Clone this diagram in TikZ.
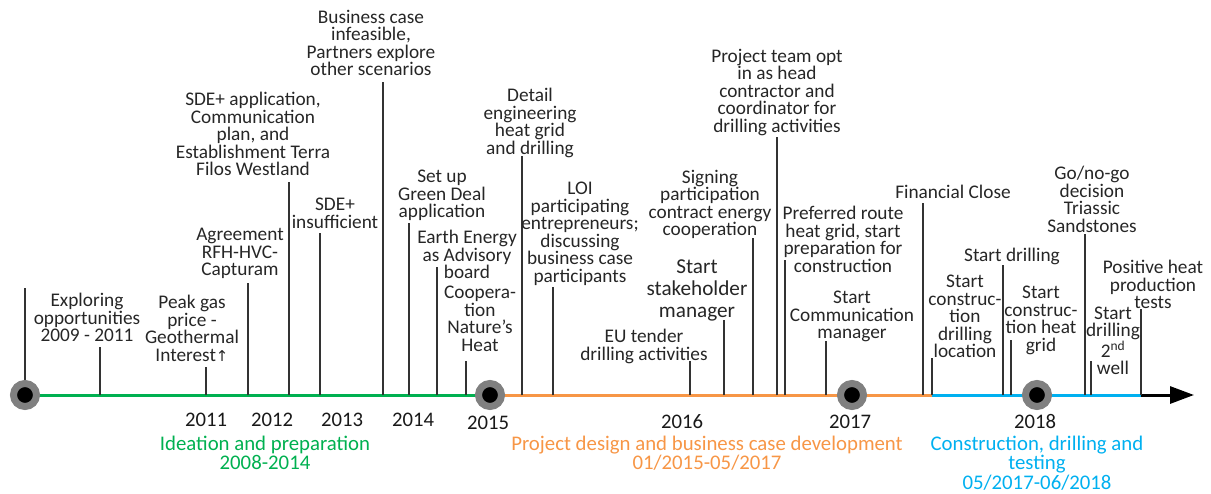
\documentclass[tikz,border=0pt]{standalone}
\usepackage{fontspec}
\setmainfont{Carlito}
\newfontfamily\symfnt{DejaVu Sans}
\usetikzlibrary{arrows.meta}
\definecolor{phgreen}{RGB}{0,176,80}
\definecolor{phorange}{RGB}{247,150,70}
\definecolor{phblue}{RGB}{0,176,240}
\definecolor{ringgray}{RGB}{128,128,128}
\newcommand\tlevent[7]{%
  \coordinate (t#1) at (#2,395);
  \coordinate (h#1) at (#2,#3);
  \draw[tick] (t#1) -- (h#1);
  \node[lbl,anchor=north,#7] (l#1) at (#4,#5-7) {#6};
}
\begin{document}
\begin{tikzpicture}[x=1pt,y=-1pt,
  tick/.style={line width=1.4pt,black!80},
  lbl/.style={font=\fontsize{19.3}{17.5}\selectfont,align=center,inner sep=0pt,text=black!85},
  biglbl/.style={font=\fontsize{21.2}{22}\selectfont},
  yearlbl/.style={font=\fontsize{20.7}{20}\selectfont,inner sep=0pt,anchor=base,text=black!90},
  phaselbl/.style={font=\fontsize{20.8}{19.6}\selectfont,inner sep=0pt,align=center,anchor=north},
  axis/.style={line width=3pt},
  ring/.style={circle,draw=ringgray,line width=7pt,fill=black,minimum size=23pt,inner sep=0pt}]
\useasboundingbox (0,0) rectangle (1211,493);
% axis coordinates
\coordinate (oend) at (932,395);
\coordinate (bend) at (1141,395);
\coordinate (tip) at (1194,395);
\draw[axis,phgreen] (25,395) coordinate (gstart) -- (490,395) coordinate (gend);
\draw[axis,phorange] (gend) -- (oend);
\draw[axis,phblue] (oend) -- (bend);
\draw[axis,black,-{Triangle[length=24pt 0 0,width=17pt 0 0]}] (bend) -- (tip);
% start tick
\coordinate (h0) at (25,288);
\draw[tick] (gstart) -- (h0);
% events
\tlevent{expl}{100}{347}{87}{300}{Exploring\\opportunities\\2009 - 2011}{}
\tlevent{peak}{206}{367}{192}{302}{Peak gas\\price -\\Geothermal\\Interest{\symfnt\fontsize{15}{17.5}\selectfont ↑}}{}
\tlevent{agree}{248}{283}{240}{235}{Agreement\\RFH-HVC-\\Capturam}{}
\tlevent{sdeapp}{289}{182}{253}{99}{SDE+ application,\\Communication\\plan, and\\Establishment Terra\\Filos Westland}{}
\tlevent{sdeins}{320}{233}{335}{205}{SDE+\\insufficient}{}
\tlevent{bcinf}{383}{82}{371}{17}{Business case\\infeasible,\\Partners explore\\other scenarios}{}
\tlevent{green}{409}{223}{442}{177}{Set up\\Green Deal\\application}{}
\tlevent{earth}{437}{267}{467}{237}{Earth Energy\\as Advisory\\board}{}
\tlevent{coop}{466}{361}{480}{293}{Coopera-\\tion\\Nature’s\\Heat}{}
\tlevent{detail}{522}{156}{530}{95}{Detail\\engineering\\heat grid\\and drilling}{}
\tlevent{loi}{553}{287}{580}{189}{LOI\\participating\\entrepreneurs;\\discussing\\business case\\participants}{}
\tlevent{eu}{690}{361}{644}{336}{EU tender\\drilling activities}{}
\tlevent{stake}{724}{320}{697}{267}{Start\\stakeholder\\manager}{biglbl}
\tlevent{sign}{753}{238}{710}{177}{Signing\\participation\\contract energy\\cooperation}{}
\tlevent{team}{777}{137}{777}{56}{Project team opt\\in as head\\contractor and\\coordinator for\\drilling activities}{}
\tlevent{pref}{785}{260}{843}{213}{Preferred route\\heat grid, start\\preparation for\\construction}{}
\tlevent{comm}{826}{341}{852}{298}{Start\\Communication\\manager}{}
\tlevent{fin}{923}{203}{953}{192}{Financial Close}{}
\tlevent{cdl}{932}{358}{965}{282}{Start\\construc-\\tion\\drilling\\location}{}
\tlevent{sdr}{1003}{265}{1012}{255}{Start drilling}{}
\tlevent{chg}{1011}{340}{1041}{293}{Start\\construc-\\tion heat\\grid}{}
\tlevent{go}{1085}{234}{1092}{173}{Go/no-go\\decision\\Triassic\\Sandstones}{}
\tlevent{stwo}{1091}{361}{1113}{314}{Start\\drilling\\2\textsuperscript{nd}\\well}{font=\fontsize{19.3}{17}\selectfont}
\tlevent{pos}{1141}{309}{1153}{267}{Positive heat\\production\\tests}{}
% circles
\node[ring] (c2008) at (gstart) {};
\node[ring] (c2015) at (gend) {};
\node[ring] (c2017) at (852,395) {};
\node[ring] (c2018) at (1037,395) {};
% years
\node[yearlbl] (y2011) at (206,426.5) {2011};
\node[yearlbl] (y2012) at (272,426.5) {2012};
\node[yearlbl] (y2013) at (342,426.5) {2013};
\node[yearlbl] (y2014) at (413,426.5) {2014};
\node[yearlbl] (y2015) at (488,429.5) {2015};
\node[yearlbl] (y2016) at (682,428.5) {2016};
\node[yearlbl] (y2017) at (850,428.5) {2017};
\node[yearlbl] (y2018) at (1035,428.5) {2018};
% phases
\node[phaselbl,text=phgreen] (p1) at (265,435.5) {Ideation and preparation\\2008-2014};
\node[phaselbl,text=phorange] (p2) at (707,435.5) {Project design and business case development\\01/2015-05/2017};
\node[phaselbl,text=phblue] (p3) at (1037,435.5) {Construction, drilling and\\testing\\05/2017-06/2018};
\end{tikzpicture}
\end{document}
